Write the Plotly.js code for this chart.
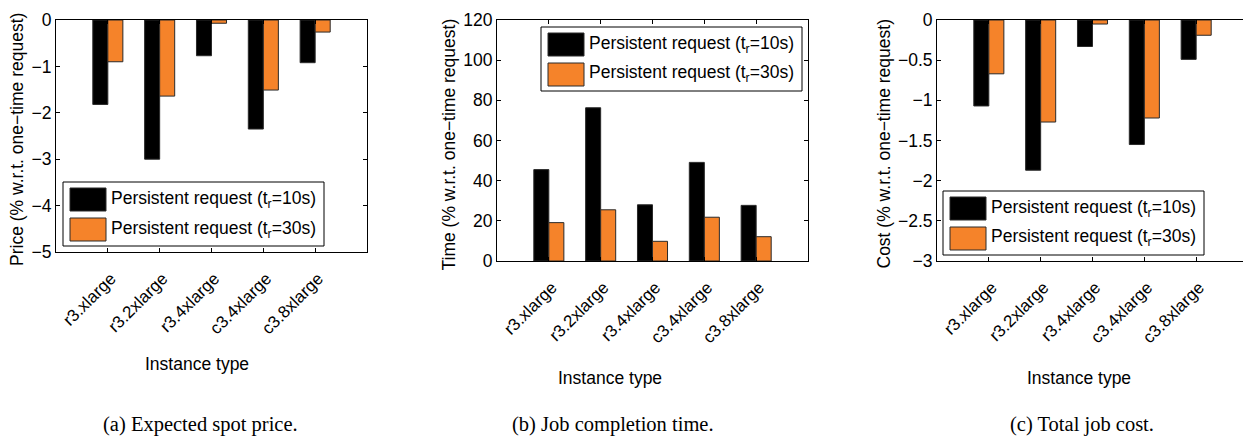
<!DOCTYPE html>
<html>
<head>
<meta charset="utf-8">
<script src="https://cdn.plot.ly/plotly-3.0.1.min.js"></script>
<style>
html,body{margin:0;padding:0;overflow:hidden;background:#fff;}
#chart{width:1250px;height:436px;}
</style>
</head>
<body>
<div id="chart"></div>
<script>
// ---- data ----
const categories = ['r3.xlarge','r3.2xlarge','r3.4xlarge','c3.4xlarge','c3.8xlarge'];
const seriesNames = ['Persistent request (t<sub>r</sub>=10s)','Persistent request (t<sub>r</sub>=30s)'];
const priceT10 = [-1.82,-3.00,-0.77,-2.35,-0.92];
const priceT30 = [-0.90,-1.64,-0.07,-1.51,-0.26];
const timeT10  = [45.5,76.3,28.0,49.1,27.7];
const timeT30  = [19.1,25.5,9.8,21.8,12.1];
const costT10  = [-1.07,-1.87,-0.33,-1.55,-0.49];
const costT30  = [-0.67,-1.27,-0.05,-1.22,-0.19];
const yTitles = ['Price (% w.r.t. one\u2212time request)','Time (% w.r.t. one\u2212time request)','Cost (% w.r.t. one\u2212time request)'];
const xTitle = 'Instance type';
const captions = ['(a) Expected spot price.','(b) Job completion time.','(c) Total job cost.'];

// ---- layout helpers ----
const W = 1250, H = 436;
const colors = ['#000000','#f5832a'];
const FONT = 'Liberation Sans, Arial, sans-serif';
const fx = p => p / W;
const fy = p => 1 - p / H;

const panels = [
  {x:[56,367],  y:[20,252], range:[-5,0],   dtick:1,   s:[priceT10,priceT30], leg:[63,182],  xt:197, xty:364, yt:17},
  {x:[497,808], y:[20,261], range:[0,120],  dtick:20,  s:[timeT10,timeT30],   leg:[541,27],  xt:610, xty:378, yt:448},
  {x:[937,1248],y:[20,261], range:[-3,0],   dtick:0.5, s:[costT10,costT30],   leg:[943,191], xt:1079, xty:378, yt:883}
];

const data = [];
const layout = {
  width: W, height: H,
  margin: {l:0, r:0, t:0, b:0},
  paper_bgcolor:'#fff', plot_bgcolor:'#fff',
  showlegend:false,
  barmode:'group', bargap:0.42, bargroupgap:0,
  font:{family:FONT, color:'#000'},
  shapes:[], annotations:[]
};

panels.forEach((p, i) => {
  const n = i === 0 ? '' : String(i+1);
  p.s.forEach((vals, k) => {
    data.push({
      type:'bar', x:categories, y:vals, name:seriesNames[k],
      xaxis:'x'+n, yaxis:'y'+n,
      marker:{color:colors[k], line:{color:'#2a2a2a', width:1}},
      hoverinfo:'x+y'
    });
  });
  layout['xaxis'+n] = {
    domain:[fx(p.x[0]), fx(p.x[1])], anchor:'y'+n,
    range:[-1,5], type:'category',
    showline:true, linecolor:'#000', linewidth:1, mirror:'ticks',
    ticks:'inside', ticklen:4, tickcolor:'#000',
    tickangle:-45, ticklabelstandoff:9, ticklabelshift:3,
    tickfont:{family:FONT, size:17, color:'#000'},
    showgrid:false, zeroline:false, fixedrange:true
  };
  layout['yaxis'+n] = {
    domain:[fy(p.y[1]), fy(p.y[0])], anchor:'x'+n,
    range:p.range, dtick:p.dtick,
    showline:true, linecolor:'#000', linewidth:1, mirror:'ticks',
    ticks:'inside', ticklen:4, tickcolor:'#000',
    tickfont:{family:FONT, size:17.5, color:'#000'},
    showgrid:false, zeroline:false, fixedrange:true
  };
  // axis titles as annotations
  layout.annotations.push({
    xref:'paper', yref:'paper', x:fx(p.yt), y:fy((p.y[0]+p.y[1])/2 + 4),
    text:yTitles[i], textangle:-90, showarrow:false,
    xanchor:'center', yanchor:'middle', font:{family:FONT, size:17.5, color:'#000'}
  });
  layout.annotations.push({
    xref:'paper', yref:'paper', x:fx(p.xt), y:fy(p.xty),
    text:xTitle, showarrow:false, xanchor:'center', yanchor:'middle',
    font:{family:FONT, size:17.5, color:'#000'}
  });
  layout.annotations.push({
    xref:'paper', yref:'paper', x:fx(p.xt+3), y:fy(424),
    text:captions[i], showarrow:false, xanchor:'center', yanchor:'middle',
    font:{family:'Liberation Serif, DejaVu Serif, serif', size:20.5, color:'#000'}
  });
  // legend box
  const lx = p.leg[0], ly = p.leg[1];
  layout.shapes.push({type:'rect', xref:'paper', yref:'paper',
    x0:fx(lx), x1:fx(lx+261), y0:fy(ly), y1:fy(ly+64),
    line:{color:'#000', width:1}, fillcolor:'#fff', layer:'above'});
  [0,1].forEach(k => {
    const sy = ly + 6 + k*30;
    layout.shapes.push({type:'rect', xref:'paper', yref:'paper',
      x0:fx(lx+7), x1:fx(lx+43), y0:fy(sy), y1:fy(sy+23),
      line:{color:'#2a2a2a', width:1}, fillcolor:colors[k], layer:'above'});
    layout.annotations.push({
      xref:'paper', yref:'paper', x:fx(lx+46), y:fy(sy+11),
      text:seriesNames[k], showarrow:false, xanchor:'left', yanchor:'middle',
      font:{family:FONT, size:17.5, color:'#000'}
    });
  });
});

Plotly.newPlot('chart', data, layout, {staticPlot:true, displayModeBar:false});
</script>
</body>
</html>
